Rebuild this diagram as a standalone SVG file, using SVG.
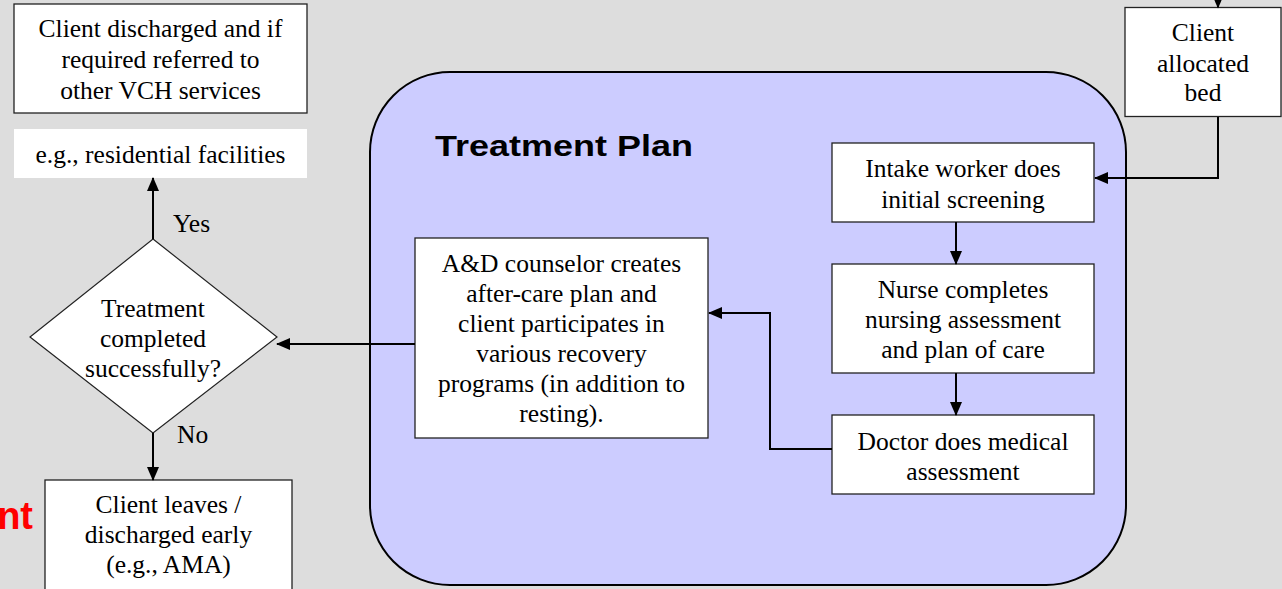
<svg xmlns="http://www.w3.org/2000/svg" width="1282" height="589" viewBox="0 0 1282 589">
<defs>
<style>
.box{fill:#fff;stroke:#222;stroke-width:1.3}
.c{fill:none;stroke:#000;stroke-width:2}
</style>
<marker id="ah" markerWidth="14" markerHeight="12" refX="13" refY="6" orient="auto" markerUnits="userSpaceOnUse">
<path d="M0,0 L14,6 L0,12 Z" fill="#000"/>
</marker>
</defs>
<rect x="0" y="0" width="1282" height="589" fill="#dddddd"/>

<g id="treatment-plan">
<rect x="370" y="72" width="756" height="513" rx="80" ry="80" fill="#ccccff" stroke="#000" stroke-width="2"/>
<text x="435" y="156" font-family="Liberation Sans, Arial, sans-serif" font-weight="bold" font-size="30" textLength="258" lengthAdjust="spacingAndGlyphs">Treatment Plan</text>
</g>

<g id="red-text">
<text x="33" y="529" text-anchor="end" font-family="Liberation Sans, Arial, sans-serif" font-weight="bold" font-size="38" fill="#ff0000">nt</text>
</g>

<g font-family="Liberation Serif, Times New Roman, serif" font-size="25.5" fill="#000" text-anchor="middle">
<g id="discharged">
<rect class="box" x="14" y="4" width="293" height="109"/>
<text x="160.5" y="37">Client discharged and if</text>
<text x="160.5" y="68">required referred to</text>
<text x="160.5" y="99">other VCH services</text>
</g>

<g id="residential">
<rect x="14" y="129" width="293" height="49" fill="#fff"/>
<text x="160.5" y="163">e.g., residential facilities</text>
</g>

<g id="decision">
<polygon points="153,239 277,337 153,433 30,337" fill="#fff" stroke="#222" stroke-width="1.2"/>
<text x="153" y="317">Treatment</text>
<text x="153" y="347">completed</text>
<text x="153" y="377">successfully?</text>
</g>

<g id="leaves">
<rect class="box" x="45" y="480" width="247" height="120"/>
<text x="168.5" y="513">Client leaves /</text>
<text x="168.5" y="543">discharged early</text>
<text x="168.5" y="573">(e.g., AMA)</text>
</g>

<g id="allocated">
<rect class="box" x="1125" y="7.5" width="156" height="109"/>
<text x="1203" y="41">Client</text>
<text x="1203" y="72">allocated</text>
<text x="1203" y="101">bed</text>
</g>

<g id="intake">
<rect class="box" x="832" y="143" width="262" height="79"/>
<text x="963" y="177">Intake worker does</text>
<text x="963" y="208">initial screening</text>
</g>

<g id="nurse">
<rect class="box" x="832" y="264" width="262" height="109"/>
<text x="963" y="298">Nurse completes</text>
<text x="963" y="328">nursing assessment</text>
<text x="963" y="358">and plan of care</text>
</g>

<g id="doctor">
<rect class="box" x="832" y="415" width="262" height="79"/>
<text x="963" y="450">Doctor does medical</text>
<text x="963" y="480">assessment</text>
</g>

<g id="counselor">
<rect class="box" x="415" y="238" width="293" height="200"/>
<text x="561.5" y="272">A&amp;D counselor creates</text>
<text x="561.5" y="302">after-care plan and</text>
<text x="561.5" y="332">client participates in</text>
<text x="561.5" y="362">various recovery</text>
<text x="561.5" y="392">programs (in addition to</text>
<text x="561.5" y="422">resting).</text>
</g>
</g>

<g id="connectors">
<line class="c" x1="1218" y1="0" x2="1218" y2="7.5" marker-end="url(#ah)"/>
<polyline class="c" points="1218,117 1218,178 1095,178" marker-end="url(#ah)"/>
<line class="c" x1="956" y1="222" x2="956" y2="264" marker-end="url(#ah)"/>
<line class="c" x1="956" y1="373" x2="956" y2="415" marker-end="url(#ah)"/>
<polyline class="c" points="832,449 770,449 770,313 709,313" marker-end="url(#ah)"/>
<line class="c" x1="415" y1="344" x2="277" y2="344" marker-end="url(#ah)"/>
<line class="c" x1="153" y1="239" x2="153" y2="178" marker-end="url(#ah)"/>
<line class="c" x1="153" y1="433" x2="153" y2="480" marker-end="url(#ah)"/>
<g font-family="Liberation Serif, Times New Roman, serif" font-size="25.5" fill="#000">
<text x="173" y="232">Yes</text>
<text x="177" y="443">No</text>
</g>
</g>
</svg>
